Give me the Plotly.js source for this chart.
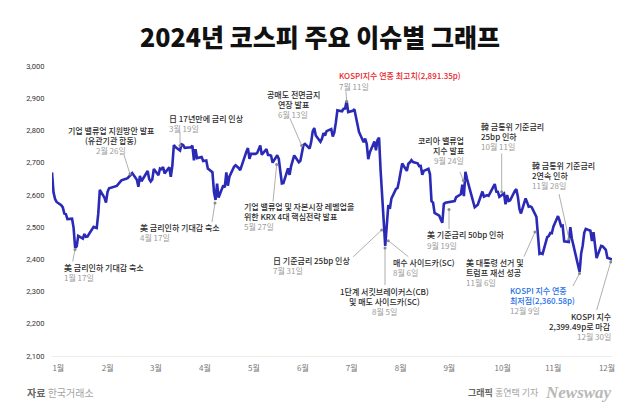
<!DOCTYPE html>
<html><head><meta charset="utf-8">
<script src="https://cdn.plot.ly/plotly-3.0.1.min.js"></script>
<style>html,body{margin:0;padding:0;background:#fff}#chart{width:640px;height:412px}</style>
</head><body><div id="chart"></div>
<script>
// ---------------- DATA ----------------
const tradingDays = [
'01-02','01-03','01-04','01-05','01-08','01-09','01-10','01-11','01-12','01-15','01-16','01-17','01-18','01-19','01-22','01-23','01-24','01-25','01-26','01-29','01-30','01-31',
'02-01','02-02','02-05','02-06','02-07','02-08','02-13','02-14','02-15','02-16','02-19','02-20','02-21','02-22','02-23','02-26','02-27','02-28','02-29',
'03-04','03-05','03-06','03-07','03-08','03-11','03-12','03-13','03-14','03-15','03-18','03-19','03-20','03-21','03-22','03-25','03-26','03-27','03-28','03-29',
'04-01','04-02','04-03','04-04','04-05','04-08','04-09','04-11','04-12','04-15','04-16','04-17','04-18','04-19','04-22','04-23','04-24','04-25','04-26','04-29','04-30',
'05-02','05-03','05-07','05-08','05-09','05-10','05-13','05-14','05-16','05-17','05-20','05-21','05-22','05-23','05-24','05-27','05-28','05-29','05-30','05-31',
'06-03','06-04','06-05','06-07','06-10','06-11','06-12','06-13','06-14','06-17','06-18','06-19','06-20','06-21','06-24','06-25','06-26','06-27','06-28',
'07-01','07-02','07-03','07-04','07-05','07-08','07-09','07-10','07-11','07-12','07-15','07-16','07-17','07-18','07-19','07-22','07-23','07-24','07-25','07-26','07-29','07-30','07-31',
'08-01','08-02','08-05','08-06','08-07','08-08','08-09','08-12','08-13','08-14','08-16','08-19','08-20','08-21','08-22','08-23','08-26','08-27','08-28','08-29','08-30',
'09-02','09-03','09-04','09-05','09-06','09-09','09-10','09-11','09-12','09-13','09-19','09-20','09-23','09-24','09-25','09-26','09-27','09-30',
'10-02','10-04','10-07','10-08','10-10','10-11','10-14','10-15','10-16','10-17','10-18','10-21','10-22','10-23','10-24','10-25','10-28','10-29','10-30','10-31',
'11-01','11-04','11-05','11-06','11-07','11-08','11-11','11-12','11-13','11-14','11-15','11-18','11-19','11-20','11-21','11-22','11-25','11-26','11-27','11-28','11-29',
'12-02','12-03','12-04','12-05','12-06','12-09','12-10','12-11','12-12','12-13','12-16','12-17','12-18','12-19','12-20','12-23','12-24','12-26','12-27','12-30'
];
const kospiClose = [
2669.81,2607.31,2587.02,2578.08,2567.82,2561.24,2541.98,2540.27,2525.05,2525.99,2497.59,2435.90,2440.04,2472.74,2464.35,2478.61,2469.69,2470.34,2478.56,2500.65,2498.81,2497.09,
2542.46,2615.31,2591.31,2576.20,2609.58,2620.32,2628.00,2633.00,2638.00,2645.00,2650.00,2652.00,2657.00,2664.27,2667.70,2647.08,2625.05,2658.84,2642.36,
2674.27,2649.40,2641.49,2647.62,2680.35,2660.76,2681.81,2680.00,2686.00,2666.84,2685.84,2656.17,2690.14,2754.86,2748.56,2737.57,2757.09,2755.11,2745.82,2746.63,
2747.86,2753.16,2706.97,2742.00,2714.21,2717.65,2705.16,2706.96,2681.82,2670.43,2609.63,2584.18,2634.70,2591.86,2629.44,2623.02,2670.00,2628.62,2656.33,2687.44,2692.06,
2683.65,2676.63,2734.36,2745.05,2712.14,2727.63,2727.21,2730.34,2753.00,2724.62,2742.14,2724.18,2723.46,2721.81,2700.00,2722.99,2712.00,2677.30,2635.44,2636.52,
2682.52,2662.10,2689.50,2722.67,2701.17,2705.92,2728.17,2754.89,2758.42,2744.10,2763.92,2797.33,2807.63,2784.26,2764.73,2774.39,2792.05,2784.06,2797.82,
2804.31,2780.86,2794.01,2824.94,2862.23,2859.70,2867.38,2867.99,2891.35,2857.00,2860.92,2866.09,2843.69,2824.35,2795.46,2763.51,2774.68,2758.71,2710.65,2731.90,2765.58,2738.19,2770.69,
2777.68,2676.19,2441.55,2522.15,2568.41,2556.73,2588.43,2618.30,2621.50,2644.50,2697.23,2674.36,2696.63,2701.13,2707.67,2701.69,2698.01,2689.25,2689.83,2662.28,2674.31,
2681.00,2664.63,2580.80,2576.20,2544.28,2535.93,2523.43,2513.37,2572.09,2575.41,2580.80,2593.37,2602.01,2631.68,2596.32,2671.57,2649.78,2593.27,
2561.69,2569.71,2610.38,2594.36,2599.16,2596.91,2623.25,2633.45,2610.36,2609.30,2593.82,2604.39,2570.70,2599.62,2581.03,2583.27,2612.43,2617.80,2593.79,2556.15,
2542.36,2588.97,2576.88,2563.51,2564.63,2561.15,2531.66,2482.57,2417.08,2418.86,2416.86,2469.07,2471.95,2482.11,2481.12,2501.24,2534.34,2520.36,2503.06,2504.67,2455.91,
2453.95,2500.10,2464.00,2441.85,2428.16,2360.58,2417.84,2442.51,2482.12,2494.46,2488.97,2456.81,2484.43,2435.93,2404.15,2442.01,2440.52,2429.67,2404.77,2399.49
];
const monthLabels = ['1월','2월','3월','4월','5월','6월','7월','8월','9월','10월','11월','12월'];
const yTicks = [2100,2200,2300,2400,2500,2600,2700,2800,2900,3000];

const eventText = [
  ['美 금리인하 기대감 축소','1월 17일'],
  ['기업 밸류업 지원방안 발표','(유관기관 합동)','2월 26일'],
  ['日 17년만에 금리 인상','3월 19일'],
  ['美 금리인하 기대감 축소','4월 17일'],
  ['기업 밸류업 및 자본시장 레벨업을','위한 KRX 4대 핵심전략 발표','5월 27일'],
  ['공매도 전면금지','연장 발표','6월 13일'],
  ['KOSPI지수 연중 최고치(2,891.35p)','7월 11일'],
  ['日 기준금리 25bp 인상','7월 31일'],
  ['1단계 서킷브레이커스(CB)','및 매도 사이드카(SC)','8월 5일'],
  ['매수 사이드카(SC)','8월 6일'],
  ['美 기준금리 50bp 인하','9월 19일'],
  ['코리아 밸류업','지수 발표','9월 24일'],
  ['韓 금통위 기준금리','25bp 인하','10월 11일'],
  ['韓 금통위 기준금리','2연속 인하','11월 28일'],
  ['美 대통령 선거 및','트럼프 재선 성공','11월 6일'],
  ['KOSPI 지수 연중','최저점(2,360.58p)','12월 9일'],
  ['KOSPI 지수','2,399.49p로 마감','12월 30일']
];

// ---------------- LAYOUT ----------------
const W = 640, H = 412, L = 52, R = 28, T = 66, B = 56;
const PW = W - L - R, PH = H - T - B;
const X0 = '2024-01-02', X1 = '2024-12-30';
const px = x => (x - L) / PW;
const py = y => (H - B - y) / PH;
const t0 = Date.UTC(2024,0,2), t1 = Date.UTC(2024,11,30);
const pxToDate = x => {
  const ms = t0 + (x - L) / PW * (t1 - t0);
  return new Date(ms).toISOString().replace('T',' ').replace('Z','');
};
const tickPx = [58.3,107.7,156,205,254,303,351.7,400.7,449.3,502.7,553.3,607];

const FONT = 'Noto Sans CJK KR, Noto Sans, sans-serif';
const DARK = '#2c2c2c', GRAY = '#9c9c9c', RED = '#e8262b', BLUE = '#1e6fe6';

// positions: [x, yFirstLine, anchor, tailX, tailY, headX, headY, colour of non-date lines]
const notePos = [
  [63,   267.7, 'left',   72.7, 261.5,  75,   249.5],
  [111,  130,   'center', 124,  155,    130,  174],
  [168.3,118.5, 'left',   180,  132,    180,  145.5],
  [139.3,227.3, 'left',   212,  222,    215,  203],
  [243.3,206.7, 'left',   273,  201.5,  276.7,164.5],
  [293,  94,    'center', 290,  118.5,  301.7,145.5],
  [338.3,76,    'left',   346,  91.5,   346.7,101.5, RED],
  [271.7,260.7, 'left',   353.3,256.7,  381.7,230],
  [384,  291.7, 'center', 385,  285,    385,  248],
  [391.7,262.7, 'left',   408.3,256.7,  388.3,240.7],
  [426,  235,   'left',   449,  229,    449,  209.5],
  [465,  140.7, 'right',  460,  172,    463.3,180.5],
  [480,  126.7, 'left',   501.7,153.5,  501.7,191.7],
  [530.7,165,   'left',   559,  194,    569,  239],
  [465,  262.7, 'left',   524,  256.7,  535,  232],
  [509.3,290,   'left',   573,  286,    579.5,273.5, BLUE],
  [611.7,316,   'right',  596.7,310,    610.7,262]
];

const annotations = [];
const shapes = [];
const LS = 10;
eventText.forEach((lines, i) => {
  const p = notePos[i];
  lines.forEach((t, j) => {
    const isDate = j === lines.length - 1;
    const col = isDate ? GRAY : (p[7] || DARK);
    annotations.push({
      xref:'paper', yref:'paper', x:px(p[0]), y:py(p[1] + j*LS),
      xanchor:p[2], yanchor:'middle', align:p[2], text:t, showarrow:false,
      borderpad:0, font:{family:FONT, size:8, color:col, weight:isDate ? 400 : 500}
    });
  });
  shapes.push({type:'line', xref:'paper', yref:'paper',
    x0:px(p[3]), y0:py(p[4]), x1:px(p[5]), y1:py(p[6]),
    line:{color:'#9a9a9a', width:0.8}});
  shapes.push({type:'circle', xref:'paper', yref:'paper',
    xsizemode:'pixel', ysizemode:'pixel', xanchor:px(p[5]), yanchor:py(p[6]),
    x0:-1.5, x1:1.5, y0:-1.5, y1:1.5,
    fillcolor:'#8a8a8a', line:{width:0}});
});

// footer
annotations.push({xref:'paper', yref:'paper', x:px(26), y:py(392.7), xanchor:'left', yanchor:'middle',
  showarrow:false, borderpad:0,
  text:'<b>자료</b> <span style="color:#a3a3a3">한국거래소</span>',
  font:{family:FONT, size:10, color:'#666'}});
annotations.push({xref:'paper', yref:'paper', x:px(540), y:py(392.7), xanchor:'right', yanchor:'middle',
  showarrow:false, borderpad:0,
  text:'<b>그래픽</b> <span style="color:#a3a3a3">홍연택 기자</span>',
  font:{family:FONT, size:9, color:'#666'}});
annotations.push({xref:'paper', yref:'paper', x:px(613), y:py(392), xanchor:'right', yanchor:'middle',
  showarrow:false, borderpad:0,
  text:'<b><i>Newsway</i></b>',
  font:{family:'Liberation Serif, DejaVu Serif, serif', size:17, color:'#b8b8b8'}});

const trace = {
  x: tradingDays.map(d => '2024-' + d),
  y: kospiClose,
  type:'scatter', mode:'lines',
  line:{color:'#2a2ab6', width:2.6},
  hoverinfo:'skip'
};

const layout = {
  width:W, height:H,
  margin:{l:L, r:R, t:T, b:B, pad:0},
  paper_bgcolor:'#fff', plot_bgcolor:'#fff',
  showlegend:false,
  title:{text:'2024년 코스피 주요 이슈별 그래프', x:0.5, xref:'container', xanchor:'center',
    y:1 - 38/H, yref:'container', yanchor:'middle',
    font:{family:FONT, size:25, color:'#111', weight:900}},
  xaxis:{type:'date', range:[X0, X1], showgrid:false, zeroline:false,
    showline:true, linecolor:'#ececec', linewidth:1,
    tickmode:'array', tickvals:tickPx.map(pxToDate), ticktext:monthLabels,
    ticks:'outside', ticklen:4, tickcolor:'rgba(0,0,0,0)',
    tickfont:{family:FONT, size:8, color:'#777'}, fixedrange:true},
  yaxis:{range:[2100, 3000], showgrid:false, zeroline:false, showline:false,
    tickmode:'array', tickvals:yTicks, tickformat:',d',
    ticks:'outside', ticklen:5, tickcolor:'rgba(0,0,0,0)',
    tickfont:{family:'Roboto, Noto Sans, sans-serif', size:7.5, color:'#333'}, fixedrange:true},
  annotations, shapes
};

Plotly.newPlot('chart', [trace], layout, {displayModeBar:false, staticPlot:true});
</script>
</body></html>
